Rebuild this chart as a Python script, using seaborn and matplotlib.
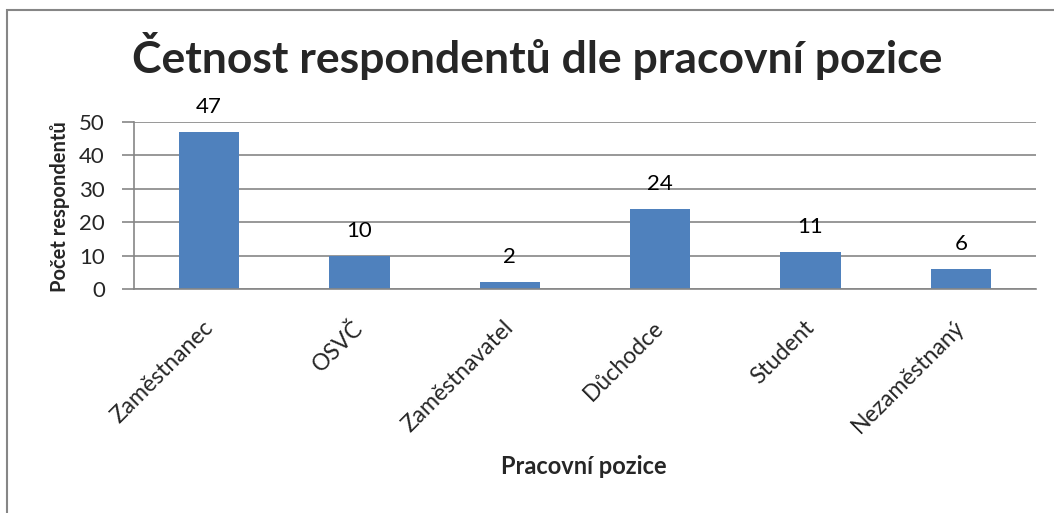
import matplotlib
matplotlib.use("Agg")
import matplotlib.pyplot as plt
import matplotlib.transforms as mtransforms
import seaborn as sns
import pandas as pd
from matplotlib.patches import Rectangle

categories = ["Zaměstnanec", "OSVČ", "Zaměstnavatel", "Důchodce", "Student", "Nezaměstnaný"]
values = [47, 10, 2, 24, 11, 6]
yticks = [0, 10, 20, 30, 40, 50]

sns.set_theme(style="white")
plt.rcParams['font.family'] = ['Lato', 'DejaVu Sans']

df = pd.DataFrame({"pozice": categories, "pocet": values})

fig = plt.figure(figsize=(10.54, 5.13), dpi=100)
ax = fig.add_axes([134/1054, 1-289/513, (1036-134)/1054, (289-122)/513])

sns.barplot(data=df, x="pozice", y="pocet", color="#4F81BD", saturation=1,
            width=0.4, ax=ax, edgecolor="#4F81BD", linewidth=0)

ax.set_ylim(0, 50)
ax.set_yticks(yticks)
ax.set_xlim(-0.5, len(categories)-0.5)
ax.yaxis.grid(True, color="#868686", linewidth=1.2)
ax.set_axisbelow(True)
for s in ["top", "right"]:
    ax.spines[s].set_visible(False)
ax.spines["left"].set_color("#868686")
ax.spines["bottom"].set_color("#868686")
ax.spines["left"].set_linewidth(1.2)
ax.spines["bottom"].set_linewidth(1.2)
ax.tick_params(axis="y", length=9, color="#868686", width=1.2, labelsize=16, pad=12, left=True)
ax.tick_params(axis="x", length=0, labelsize=16.5, pad=20)
shift = mtransforms.ScaledTranslation(-7/100, 0, fig.dpi_scale_trans)
for lab in ax.get_xticklabels():
    lab.set_rotation(45)
    lab.set_ha("right")
    lab.set_rotation_mode("anchor")
    lab.set_transform(lab.get_transform() + shift)

for i, v in enumerate(values):
    ax.annotate(str(v), (i, v), xytext=(0, 19), textcoords="offset pixels",
                ha="center", va="baseline", fontsize=16, color="black")

ax.set_ylabel("")
ax.set_xlabel("")
fig.text(60/1054, 1-207/513, "Počet respondentů", ha="center", va="center",
         rotation=90, fontsize=14.5, fontweight="bold")
fig.text(584/1054, 1-467/513, "Pracovní pozice", ha="center", va="center",
         fontsize=17, fontweight="bold")
fig.text(537/1054, 1-56/513, "Četnost respondentů dle pracovní pozice", ha="center",
         va="center", fontsize=32, fontweight="bold")

fig.patches.append(Rectangle((7/1054, -0.1), 1.2, (1-10/513)+0.1, transform=fig.transFigure,
                             fill=False, edgecolor="#868686", linewidth=1.5))

fig.savefig("out.png", dpi=100)
